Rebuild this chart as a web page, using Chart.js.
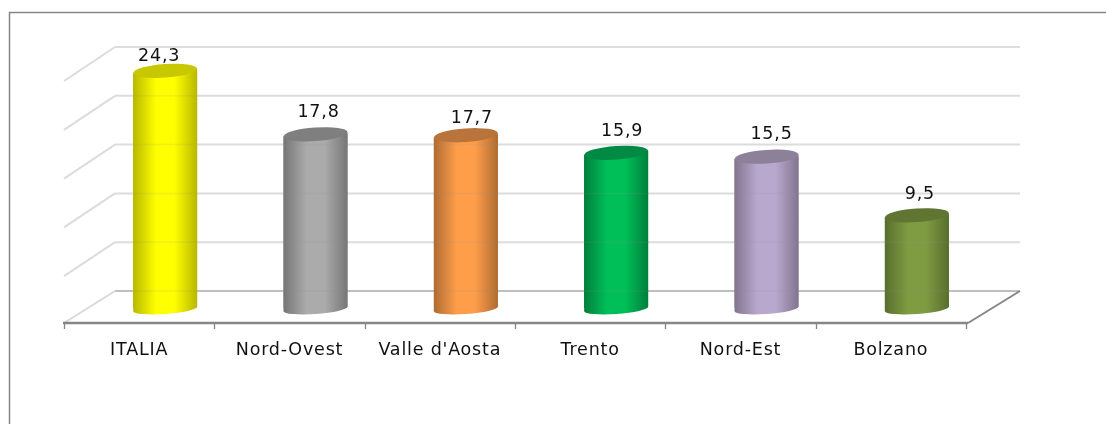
<!DOCTYPE html>
<html>
<head>
<meta charset="utf-8">
<style>html,body{margin:0;padding:0;background:#fff}canvas{display:block}</style>
<script src="https://cdn.jsdelivr.net/npm/chart.js@4"></script>
</head>
<body>
<div style="width:1106px;height:424px"><canvas id="c" width="1106" height="424"></canvas></div>
<script>
const categories = ['ITALIA','Nord-Ovest',"Valle d'Aosta",'Trento','Nord-Est','Bolzano'];
const values = [24.3,17.8,17.7,15.9,15.5,9.5];
const valueLabels = ['24,3','17,8','17,7','15,9','15,5','9,5'];
const midColors = ['#FFFF00','#ABABAB','#FF9E4A','#00BF58','#B9A8CE','#7F9C42'];
const edgeColors = ['#B8B800','#767676','#AE6C32','#007F3B','#82758F','#586E2D'];
const capColors = ['#C8C800','#7F7F7F','#B8743A','#008A44','#8D8099','#5F7531'];
const labelNudgeX = [-6,3,6,6,5,3];
const labelNudgeY = [-14,-22,-17,-21,-22,-21];

const DX = 51, BACK = 17, FRONT = 15, R = 32, RY = 6.8, RYB = 5, TILT = -4 * Math.PI / 180, SLOPE = 2.2, BASE = 1;

function grad(ctx, x, i) {
  const g = ctx.createLinearGradient(x - R, 0, x + R, 0);
  g.addColorStop(0, edgeColors[i]);
  g.addColorStop(0.36, midColors[i]);
  g.addColorStop(0.64, midColors[i]);
  g.addColorStop(1, edgeColors[i]);
  return g;
}
function line(ctx, x1, y1, x2, y2, color, w) {
  ctx.strokeStyle = color; ctx.lineWidth = w;
  ctx.beginPath(); ctx.moveTo(x1, y1); ctx.lineTo(x2, y2); ctx.stroke();
}
function bodyPath(c, b, z) {
  c.moveTo(b.x - R, b.y + SLOPE);
  c.lineTo(b.x + R, b.y - SLOPE);
  c.lineTo(b.x + R, z + BASE - SLOPE);
  c.lineTo(b.x - R, z + BASE + SLOPE);
  c.closePath();
}
const cyl = {
  id: 'cyl',
  beforeDraw(chart) {
    const c = chart.ctx;
    c.letterSpacing = '0.8px';
    c.save();
    c.fillStyle = '#fff'; c.fillRect(0, 0, chart.width, chart.height);
    c.strokeStyle = '#868686'; c.lineWidth = 1.5;
    c.beginPath(); c.moveTo(9.5, 424); c.lineTo(9.5, 12.5); c.lineTo(1106, 12.5); c.stroke();
    c.restore();
  },
  beforeDatasetsDraw(chart) {
    const c = chart.ctx, x = chart.scales.x, y = chart.scales.y;
    const L = x.left - 26, Rt = x.right - 26, z = y.getPixelForValue(0);
    c.save();
    y.ticks.forEach(t => {
      const p = y.getPixelForValue(t.value);
      const col = t.value === 0 ? '#BFBFBF' : '#DCDCDC';
      line(c, L + DX, p - BACK, Rt + DX + 3, p - BACK, col, 2);
      if (t.value !== 0) line(c, L, p + FRONT + 2, L + DX, p - BACK, '#DCDCDC', 2);
    });
    line(c, L, z + FRONT, L + DX, z - BACK, '#D9D9D9', 2);
    line(c, Rt + 2, z + FRONT, Rt + DX + 3, z - BACK, '#868686', 2);
    line(c, L - 1, z + FRONT, Rt + 2, z + FRONT, '#868686', 2.3);
    const step = (Rt - L) / categories.length;
    for (let i = 0; i <= categories.length; i++) {
      const tx = Math.round(L + i * step) + 0.5;
      line(c, tx, z + FRONT, tx, z + FRONT + 6, '#868686', 1.3);
    }
    const bars = chart.getDatasetMeta(0).data;
    bars.forEach((b, i) => {
      c.fillStyle = grad(c, b.x, i);
      c.beginPath(); c.ellipse(b.x, z + BASE, R, RYB, TILT, 0, Math.PI * 2); c.fill();
      c.beginPath(); bodyPath(c, b, z); c.fill();
    });
    c.restore();
    c.save();
    c.beginPath();
    bars.forEach(b => bodyPath(c, b, z));
    c.clip();
  },
  afterDatasetsDraw(chart) {
    const c = chart.ctx, y = chart.scales.y;
    c.restore();
    const bars = chart.getDatasetMeta(0).data;
    c.save();
    // grid lines show faintly through the cylinders
    bars.forEach(b => {
      y.ticks.forEach(t => {
        const p = y.getPixelForValue(t.value) - BACK;
        if (p > b.y + 6) line(c, b.x - R, p, b.x + R, p, 'rgba(150,150,150,0.14)', 1.5);
      });
    });
    bars.forEach((b, i) => {
      c.fillStyle = capColors[i];
      c.beginPath(); c.ellipse(b.x, b.y, R, RY, TILT, 0, Math.PI * 2); c.fill();
    });
    c.fillStyle = '#111';
    c.font = '17.5px "DejaVu Sans"';
    c.textAlign = 'center'; c.textBaseline = 'middle';
    bars.forEach((b, i) => c.fillText(valueLabels[i], b.x + labelNudgeX[i], b.y + labelNudgeY[i]));
    c.restore();
  }
};
new Chart(document.getElementById('c'), {
  type: 'bar',
  data: { labels: categories, datasets: [{
    data: values,
    barThickness: 64,
    borderWidth: 0,
    backgroundColor: (ctx) => {
      const i = ctx.dataIndex;
      const sx = ctx.chart.scales.x;
      const fallback = midColors[i] || '#999';
      if (!sx || i === undefined) return fallback;
      const px = sx.getPixelForValue(i);
      return Number.isFinite(px) ? grad(ctx.chart.ctx, px, i) : fallback;
    }
  }]},
  options: {
    responsive: false,
    animation: false,
    layout: { padding: { left: 90, right: 114, top: 64, bottom: 0 } },
    plugins: { legend: { display: false }, tooltip: { enabled: false } },
    scales: {
      x: {
        afterFit: s => { s.height = 116; },
        grid: { display: false }, border: { display: false },
        ticks: { labelOffset: -26, padding: 24, maxRotation: 0, autoSkip: false,
                 color: '#111', font: { family: '"DejaVu Sans"', size: 17.5 } }
      },
      y: { display: false, min: 0, max: 25, ticks: { stepSize: 5 } }
    }
  },
  plugins: [cyl]
});
</script>
</body>
</html>
